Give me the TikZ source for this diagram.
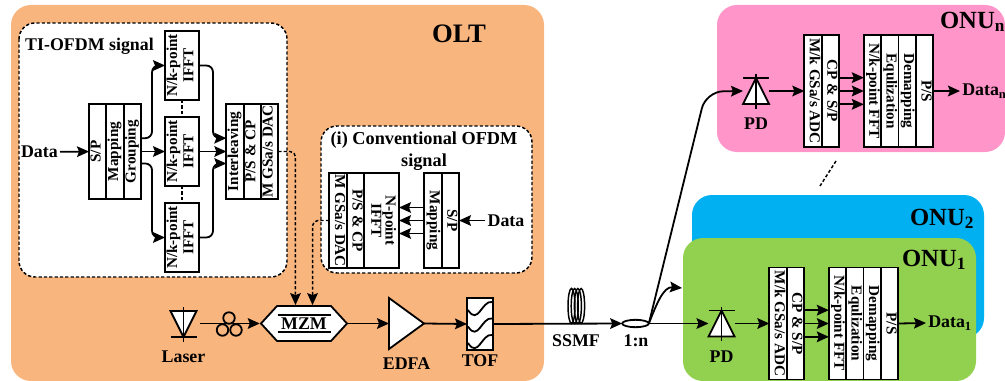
\documentclass[tikz,border=0pt]{standalone}
\usepackage{graphicx}
\usepackage{fontspec}
\setmainfont{Liberation Serif}
\usetikzlibrary{positioning,shapes.geometric,shapes.symbols,arrows.meta}
\definecolor{oltcol}{HTML}{F9B57E}
\definecolor{onuncol}{HTML}{FF95C8}
\definecolor{onutwocol}{HTML}{00B0F0}
\definecolor{onuonecol}{HTML}{92D050}
\newcommand{\rotup}[1]{\rotatebox{90}{\begin{tabular}{@{}c@{}}#1\end{tabular}}}
\newcommand{\rotdn}[1]{\rotatebox{-90}{\begin{tabular}{@{}c@{}}#1\end{tabular}}}

\begin{document}
\begin{tikzpicture}[%
  x=0.75pt,
  y=-0.75pt,
  >={Stealth[length=9pt,width=8pt,inset=1.5pt]},
  line width=1.35pt,
  pil/.style={
    ->,
    line width=1.35pt,},
  dotline/.style={
    line width=1.1pt,
    dash pattern=on 2.4pt off 1.6pt,},
  dashpil/.style={
    ->,
    dotline,
    rounded corners=4pt,},
  dashbox/.style={
    dotline,
    fill=white,
    rounded corners=12pt,},
  panel/.style={
    rounded corners=15pt,},
  cell/.style={
    draw,
    fill=white,
    inner sep=0pt,
    outer sep=0pt,
    line width=1.35pt,
    align=center,
    font=\bfseries\fontsize{11.4}{10.5}\selectfont,
    minimum width=13pt,
    minimum height=71.25pt,},
  tallcell/.style={
    cell,
    minimum height=84pt,},
  ifftcell/.style={
    cell,
    minimum width=25.5pt,
    minimum height=51.75pt,},
  txt/.style={
    inner sep=1pt,
    font=\bfseries\fontsize{13.4}{15}\selectfont,},
  bigtxt/.style={
    inner sep=0pt,
    font=\bfseries\fontsize{18.5}{20}\selectfont,},
  diode/.style={
    inner sep=0pt,
    outer sep=0pt,
    minimum width=19.5pt,
    minimum height=19.5pt,},
  pcring/.style={
    circle,
    draw,
    inner sep=0pt,
    minimum size=8.6pt,},
  ]
  \useasboundingbox (0,0) rectangle (1005,381);
  %% Panels
  \fill[panel, oltcol] (11,5) rectangle (544,381);
  \fill[panel, onuncol] (717,5) rectangle (1005,152);
  \fill[panel, onutwocol] (692,195) rectangle (984,338);
  \fill[panel, onuonecol] (683,238) rectangle (976,381);
  \draw[dashbox] (19,23) rectangle (287,277);
  \draw[dashbox] (321,126) rectangle (532,273);
  %% Titles
  \node[bigtxt, font=\bfseries\fontsize{20}{22}\selectfont] (olt) at (459,34) {OLT};
  \node[bigtxt, anchor=east] (onun) at (1006,22) {ONU\textsubscript{n}};
  \node[bigtxt, anchor=east] (onutwo) at (975,219) {ONU\textsubscript{2}};
  \node[bigtxt, anchor=east] (onuone) at (967,260) {ONU\textsubscript{1}};
  \node[txt, anchor=west] (titof) at (23,46) {TI-OFDM signal};
  \node[txt, align=center, font=\bfseries\fontsize{13.7}{16.5}\selectfont] (conv) at (424,151) {(i) Conventional OFDM\\signal};
  %% TI-OFDM transmitter
  \node[txt, anchor=east] (data) at (60,152) {Data};
  \node[cell] (sp) at (97.7,151.5) {\rotup{S/P}};
  \node[cell, right=0pt of sp] (mapping) {\rotup{Mapping}};
  \node[cell, right=0pt of mapping] (grouping) {\rotup{Grouping}};
  \node[ifftcell] (ifftb) at (182,151.5) {\rotup{N/k-point\\[1.5pt]IFFT}};
  \node[ifftcell, above=12.75pt of ifftb] (iffta) {\rotup{N/k-point\\[1.5pt]IFFT}};
  \node[ifftcell, below=12.75pt of ifftb] (ifftc) {\rotup{N/k-point\\[1.5pt]IFFT}};
  \node[cell] (inter) at (235,151.5) {\rotup{Interleaving}};
  \node[cell, right=0pt of inter] (pscp) {\rotup{P/S \& CP}};
  \node[cell, right=0pt of pscp] (dac) {\rotup{M GSa/s DAC}};
  %% Conventional transmitter
  \node[cell, minimum width=13.5pt] (cdac) at (338,220.5) {\rotdn{M GSa/s DAC}};
  \node[cell, right=0pt of cdac] (cpscp) {\rotdn{P/S \& CP}};
  \node[cell, minimum width=26pt, right=0pt of cpscp] (cifft) {\rotdn{N-point\\[0pt]IFFT}};
  \node[cell] (cmap) at (433,220.5) {\rotdn{Mapping}};
  \node[cell, right=0pt of cmap] (csp) {\rotdn{S/P}};
  \node[txt] (cdata) at (506,220.5) {Data};
  %% Optical link
  \node[diode] (laser) at (183.5,324) {};
  \node[txt, below=9pt of laser] (laserl) {Laser};
  \node[pcring] (pca) at (229,318) {};
  \node[pcring] (pcb) at (222.5,330) {};
  \node[pcring] (pcc) at (236,330) {};
  \coordinate (pcin) at (200,323.5);
  \node[signal, signal to=east and west, signal pointer angle=95, draw, fill=white,
    inner sep=0pt, minimum width=64.5pt, minimum height=26.25pt,
    font=\bfseries\fontsize{13.4}{15}\selectfont] (mzm) at (304,323.5) {MZM};
  \node[inner sep=0pt, outer sep=0pt, minimum width=26.25pt, minimum height=38.25pt] (edfa) at (406.5,323.5) {};
  \node[txt, below=5pt of edfa] (edfal) {EDFA};
  \node[draw, fill=white, inner sep=0pt, outer sep=0pt, minimum width=19.5pt, minimum height=39pt] (tof) at (480,324) {};
  \node[txt, below=2pt of tof] (tofl) {TOF};
  \node[txt] (ssmf) at (576,341) {SSMF};
  \node[txt] (ratio) at (636,341) {1:n};
  \coordinate (coil) at (571.5,306);
  \coordinate (bend) at (706,91.5);
  \coordinate (tab) at (682,288);
  %% ONU_n receiver
  \node[diode] (pdn) at (756,91) {};
  \node[txt, below=9pt of pdn] (pdnl) {PD};
  \node[tallcell] (adcn) at (813,91) {\rotdn{M/k GSa/s ADC}};
  \node[tallcell, right=0pt of adcn] (cpn) {\rotdn{CP \& S/P}};
  \node[tallcell] (fftn) at (872.5,91) {\rotdn{N/k-point FFT}};
  \node[tallcell, right=0pt of fftn] (eqn) {\rotdn{Equlization}};
  \node[tallcell, right=0pt of eqn] (demn) {\rotdn{Demapping}};
  \node[tallcell, right=0pt of demn] (psn) {\rotdn{P/S}};
  \node[txt, anchor=west] (datan) at (960,91) {Data\textsubscript{n}};
  %% ONU_1 receiver
  \node[diode] (pdo) at (721.5,323.5) {};
  \node[txt, below=9pt of pdo] (pdol) {PD};
  \node[tallcell] (adco) at (778,323.5) {\rotdn{M/k GSa/s ADC}};
  \node[tallcell, right=0pt of adco] (cpo) {\rotdn{CP \& S/P}};
  \node[tallcell] (ffto) at (837.5,323.5) {\rotdn{N/k-point FFT}};
  \node[tallcell, right=0pt of ffto] (eqo) {\rotdn{Equlization}};
  \node[tallcell, right=0pt of eqo] (demo) {\rotdn{Demapping}};
  \node[tallcell, right=0pt of demo] (pso) {\rotdn{P/S}};
  \node[txt, anchor=west] (datao) at (926,323) {Data\textsubscript{1}};
  %% Symbols
  \foreach \pd in {pdn,pdo}{
    \draw[fill=white] (\pd.north) -- (\pd.south west) -- (\pd.south east) -- cycle;
    \draw (\pd.north west) -- (\pd.north east);
    \draw ([yshift=3pt]\pd.north) -- ([yshift=-3.5pt]\pd.south);
  }
  \draw[fill=white] (laser.south) -- (laser.north west) -- (laser.north east) -- cycle;
  \draw (laser.south west) -- (laser.south east);
  \draw ([yshift=3pt]laser.north) -- ([yshift=-3.5pt]laser.south);
  \draw[fill=white] (edfa.north west) -- (edfa.east) -- (edfa.south west) -- cycle;
  \draw ([shift={(-26.5,-8.5)}]mzm.center) -- ++(53,0);
  \draw ([shift={(-26.5,8.5)}]mzm.center) -- ++(53,0);
  \foreach \y in {0,16.5,33}{
    \draw (tof.north west) ++(1,12+\y) .. controls +(10,16) and +(-10,-2) .. +(24,-8);
  }
  \foreach \i in {0,1,2,3}{
    \draw[line width=1.1pt] (coil) ++(3.2*\i,0) ellipse (3.5 and 17.5);
  }
  %% Edges
  \draw[->] (data) to (sp);
  \draw[pil, rounded corners=5pt] ([yshift=10pt]grouping.east) -- ++(11,0) |- (iffta.west);
  \draw[pil] (grouping.east) to (ifftb.west);
  \draw[pil, rounded corners=5pt] ([yshift=-9pt]grouping.east) -- ++(11,0) |- (ifftc.west);
  \draw[pil, rounded corners=5pt] (iffta.east) -- ++(14,0) |- ([yshift=10pt]inter.west);
  \draw[pil] (ifftb.east) to (inter.west);
  \draw[pil, rounded corners=5pt] (ifftc.east) -- ++(14,0) |- ([yshift=-9pt]inter.west);
  \draw[dotline] (iffta.south) to (ifftb.north);
  \draw[dotline] (ifftb.south) to (ifftc.north);
  \draw[dashpil] (dac.east) -| ([xshift=-6.4pt]mzm.north);
  \draw[dashpil] (cdac.west) -| ([xshift=6.4pt]mzm.north);
  \draw[pil] (cdata) to (csp.east);
  \draw[pil] (cmap.west) to (cifft.east);
  \draw[pil] ([yshift=9.75pt]cmap.west) to ([yshift=9.75pt]cifft.east);
  \draw[pil] ([yshift=-9.75pt]cmap.west) to ([yshift=-9.75pt]cifft.east);
  \draw[pil] (pcin) to (mzm.west);
  \draw[pil] (mzm.east) to (edfa.west);
  \draw[pil] (edfa.east) to (tof.west);
  \node[ellipse, draw, fill=white, inner sep=0pt, outer sep=0pt, minimum width=20pt, minimum height=5.5pt] (split) at (635.5,323.5) {};
  \draw[pil] (tof.east) to (split.west);
  \draw[pil] (split.east) to (pdo.west);
  \draw[pil, rounded corners=13pt] (split.east) -- (bend) -- (pdn.west);
  \draw[pil] (split.east) to [out=68,in=175] (tab);
  \draw[pil] (pdn.east) to (adcn.west);
  \draw[pil] (pdo.east) to (adco.west);
  \foreach \s in {-10,0,10}{
    \draw[pil] ([yshift=\s pt]cpn.east) to ([yshift=\s pt]fftn.west);
    \draw[pil] ([yshift=\s pt]cpo.east) to ([yshift=\s pt]ffto.west);
  }
  \draw[pil] (psn.east) to (datan.west);
  \draw[pil] (pso.east) to (datao.west);
  \draw[dotline] ([shift={(23,14)}]adcn.south) -- ++(-16,25);
\end{tikzpicture}
\end{document}
